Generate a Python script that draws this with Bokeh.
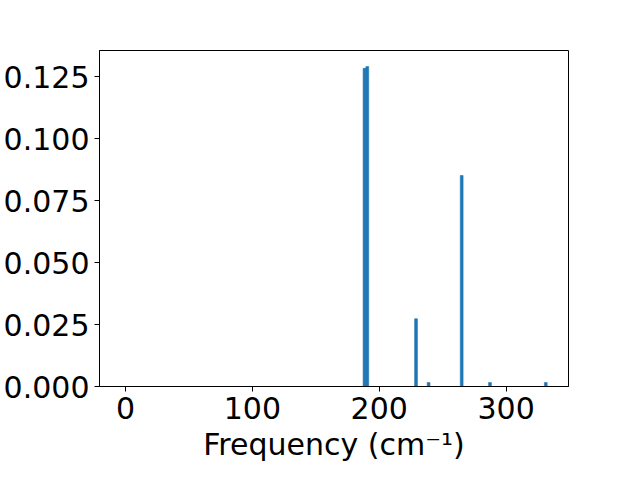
from bokeh.plotting import figure
from bokeh.models import Range1d, FixedTicker, NumeralTickFormatter
from bokeh.embed import file_html
from bokeh.resources import INLINE

# Data (frequency in cm^-1, intensity)
freq = [188.4, 190.6, 229.0, 238.9, 265.0, 287.3, 331.3]
intensity = [0.1283, 0.1290, 0.0273, 0.0016, 0.0851, 0.0016, 0.0016]
bin_width = 2.2

x_ticks = [0, 100, 200, 300]
y_ticks = [0.0, 0.025, 0.05, 0.075, 0.1, 0.125]
x_label = "Frequency (cm⁻¹)"

p = figure(width=624, height=464, output_backend="svg", toolbar_location=None,
           x_range=Range1d(-20.5, 349.2), y_range=Range1d(0, 0.1355),
           min_border_left=0, min_border_right=56, min_border_top=50, min_border_bottom=0)

p.vbar(x=freq, top=intensity, width=bin_width, fill_color="#1f77b4",
       line_color="#1f77b4", line_width=0.6)

p.grid.visible = False
p.outline_line_color = "black"
p.outline_line_width = 1
p.background_fill_color = "white"
p.border_fill_color = "white"

for ax in (p.xaxis[0], p.yaxis[0]):
    ax.axis_line_color = "black"
    ax.major_tick_line_color = "black"
    ax.major_tick_out = 5
    ax.major_tick_in = 0
    ax.minor_tick_line_color = None
    ax.major_label_text_font = "DejaVu Sans"
    ax.major_label_text_font_size = "30px"
    ax.major_label_text_color = "black"
    ax.major_label_standoff = 5
    ax.axis_label_text_font = "DejaVu Sans"
    ax.axis_label_text_font_size = "30px"
    ax.axis_label_text_font_style = "normal"
    ax.axis_label_text_color = "black"
    ax.axis_label_standoff = 5

p.xaxis[0].ticker = FixedTicker(ticks=x_ticks)
p.yaxis[0].ticker = FixedTicker(ticks=y_ticks)
p.yaxis[0].formatter = NumeralTickFormatter(format="0.000")
p.xaxis[0].axis_label = x_label

open("out.html", "w").write(file_html(p, INLINE))
